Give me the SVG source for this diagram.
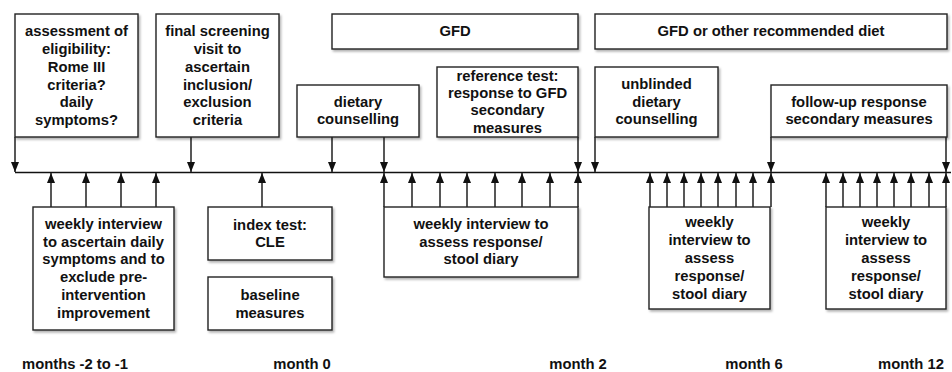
<svg xmlns="http://www.w3.org/2000/svg" width="952" height="372" viewBox="0 0 952 372">
<defs>
<marker id="ah" viewBox="0 0 10 8" refX="10" refY="4" markerWidth="10" markerHeight="8" markerUnits="userSpaceOnUse" orient="auto"><path d="M0,0 L10,4 L0,8 z" fill="#111"/></marker>
<filter id="sh" x="-5%" y="-5%" width="115%" height="120%"><feDropShadow dx="1.5" dy="2" stdDeviation="1.2" flood-color="#000" flood-opacity="0.3"/></filter>
</defs>
<style>
.b{fill:#fff;stroke:#222;stroke-width:1.4;filter:url(#sh)}
.t{font-family:"Liberation Sans",Arial,sans-serif;font-weight:bold;font-size:14.8px;fill:#111;text-anchor:middle}
.c{stroke:#111;stroke-width:1.4;fill:none}
.a{stroke:#111;stroke-width:1.4;fill:none;marker-end:url(#ah)}
</style>
<g id="connectors">
<line class="c" x1="15" y1="172.5" x2="951" y2="172.5"/>
<line class="a" x1="15" y1="137" x2="15" y2="172"/>
<line class="a" x1="191" y1="137" x2="191" y2="172"/>
<line class="a" x1="332" y1="137" x2="332" y2="172"/>
<line class="a" x1="384" y1="137" x2="384" y2="172"/>
<line class="a" x1="578" y1="137" x2="578" y2="172"/>
<line class="a" x1="595" y1="137" x2="595" y2="172"/>
<line class="a" x1="771" y1="137" x2="771" y2="172"/>
<line class="a" x1="946" y1="137" x2="946" y2="172"/>
<line class="a" x1="51" y1="207" x2="51" y2="173"/>
<line class="a" x1="86" y1="207" x2="86" y2="173"/>
<line class="a" x1="121" y1="207" x2="121" y2="173"/>
<line class="a" x1="156" y1="207" x2="156" y2="173"/>
<line class="a" x1="262" y1="207" x2="262" y2="173"/>
<line class="a" x1="384" y1="207" x2="384" y2="173"/>
<line class="a" x1="412" y1="207" x2="412" y2="173"/>
<line class="a" x1="440" y1="207" x2="440" y2="173"/>
<line class="a" x1="467" y1="207" x2="467" y2="173"/>
<line class="a" x1="495" y1="207" x2="495" y2="173"/>
<line class="a" x1="522" y1="207" x2="522" y2="173"/>
<line class="a" x1="550" y1="207" x2="550" y2="173"/>
<line class="a" x1="578" y1="207" x2="578" y2="173"/>
<line class="a" x1="650" y1="207" x2="650" y2="173"/>
<line class="a" x1="667" y1="207" x2="667" y2="173"/>
<line class="a" x1="684" y1="207" x2="684" y2="173"/>
<line class="a" x1="701" y1="207" x2="701" y2="173"/>
<line class="a" x1="718" y1="207" x2="718" y2="173"/>
<line class="a" x1="736" y1="207" x2="736" y2="173"/>
<line class="a" x1="753" y1="207" x2="753" y2="173"/>
<line class="a" x1="771" y1="207" x2="771" y2="173"/>
<line class="a" x1="826" y1="207" x2="826" y2="173"/>
<line class="a" x1="843" y1="207" x2="843" y2="173"/>
<line class="a" x1="860" y1="207" x2="860" y2="173"/>
<line class="a" x1="877" y1="207" x2="877" y2="173"/>
<line class="a" x1="894" y1="207" x2="894" y2="173"/>
<line class="a" x1="911" y1="207" x2="911" y2="173"/>
<line class="a" x1="929" y1="207" x2="929" y2="173"/>
<line class="a" x1="946" y1="207" x2="946" y2="173"/>
</g>
<g id="assessment">
<rect class="b" x="15" y="14" width="123" height="123"/>
<text class="t"><tspan x="76.5" y="36">assessment of</tspan><tspan x="76.5" y="54">eligibility:</tspan><tspan x="76.5" y="72">Rome III</tspan><tspan x="76.5" y="90">criteria?</tspan><tspan x="76.5" y="107">daily</tspan><tspan x="76.5" y="125">symptoms?</tspan></text>
</g>
<g id="screening">
<rect class="b" x="156" y="14" width="123" height="123"/>
<text class="t"><tspan x="217.5" y="36">final screening</tspan><tspan x="217.5" y="54">visit to</tspan><tspan x="217.5" y="72">ascertain</tspan><tspan x="217.5" y="90">inclusion/</tspan><tspan x="217.5" y="107">exclusion</tspan><tspan x="217.5" y="125">criteria</tspan></text>
</g>
<g id="dietary">
<rect class="b" x="297" y="85" width="122" height="52"/>
<text class="t"><tspan x="358" y="107">dietary</tspan><tspan x="358" y="124">counselling</tspan></text>
</g>
<g id="gfd">
<rect class="b" x="332" y="14" width="246" height="35"/>
<text class="t" x="455" y="36">GFD</text>
</g>
<g id="reference">
<rect class="b" x="437" y="67" width="141" height="70"/>
<text class="t"><tspan x="507.5" y="81">reference test:</tspan><tspan x="507.5" y="98">response to GFD</tspan><tspan x="507.5" y="115">secondary</tspan><tspan x="507.5" y="133">measures</tspan></text>
</g>
<g id="gfd-other">
<rect class="b" x="595" y="14" width="352" height="35"/>
<text class="t" x="771" y="36">GFD or other recommended diet</text>
</g>
<g id="unblinded">
<rect class="b" x="595" y="67" width="123" height="70"/>
<text class="t"><tspan x="656.5" y="89">unblinded</tspan><tspan x="656.5" y="107">dietary</tspan><tspan x="656.5" y="124">counselling</tspan></text>
</g>
<g id="followup">
<rect class="b" x="771" y="85" width="176" height="52"/>
<text class="t"><tspan x="859" y="107">follow-up response</tspan><tspan x="859" y="124">secondary measures</tspan></text>
</g>
<g id="weekly1">
<rect class="b" x="33" y="207" width="141" height="123"/>
<text class="t"><tspan x="103.5" y="229">weekly interview</tspan><tspan x="103.5" y="247">to ascertain daily</tspan><tspan x="103.5" y="264">symptoms and to</tspan><tspan x="103.5" y="282">exclude pre-</tspan><tspan x="103.5" y="300">intervention</tspan><tspan x="103.5" y="318">improvement</tspan></text>
</g>
<g id="index">
<rect class="b" x="208" y="207" width="124" height="53"/>
<text class="t"><tspan x="270" y="230">index test:</tspan><tspan x="270" y="247">CLE</tspan></text>
</g>
<g id="baseline">
<rect class="b" x="208" y="277" width="124" height="53"/>
<text class="t"><tspan x="270" y="300">baseline</tspan><tspan x="270" y="318">measures</tspan></text>
</g>
<g id="weekly2">
<rect class="b" x="384" y="207" width="194" height="70"/>
<text class="t"><tspan x="481" y="229">weekly interview to</tspan><tspan x="481" y="247">assess response/</tspan><tspan x="481" y="264">stool diary</tspan></text>
</g>
<g id="weekly3">
<rect class="b" x="649" y="207" width="121" height="102"/>
<text class="t"><tspan x="709.5" y="227">weekly</tspan><tspan x="709.5" y="245">interview to</tspan><tspan x="709.5" y="263">assess</tspan><tspan x="709.5" y="281">response/</tspan><tspan x="709.5" y="299">stool diary</tspan></text>
</g>
<g id="weekly4">
<rect class="b" x="826" y="207" width="120" height="102"/>
<text class="t"><tspan x="886" y="227">weekly</tspan><tspan x="886" y="245">interview to</tspan><tspan x="886" y="263">assess</tspan><tspan x="886" y="281">response/</tspan><tspan x="886" y="299">stool diary</tspan></text>
</g>
<g id="labels">
<text class="t" x="75" y="369">months -2 to -1</text>
<text class="t" x="302" y="369">month 0</text>
<text class="t" x="578" y="369">month 2</text>
<text class="t" x="754" y="369">month 6</text>
<text class="t" x="911" y="369">month 12</text>
</g>
</svg>
